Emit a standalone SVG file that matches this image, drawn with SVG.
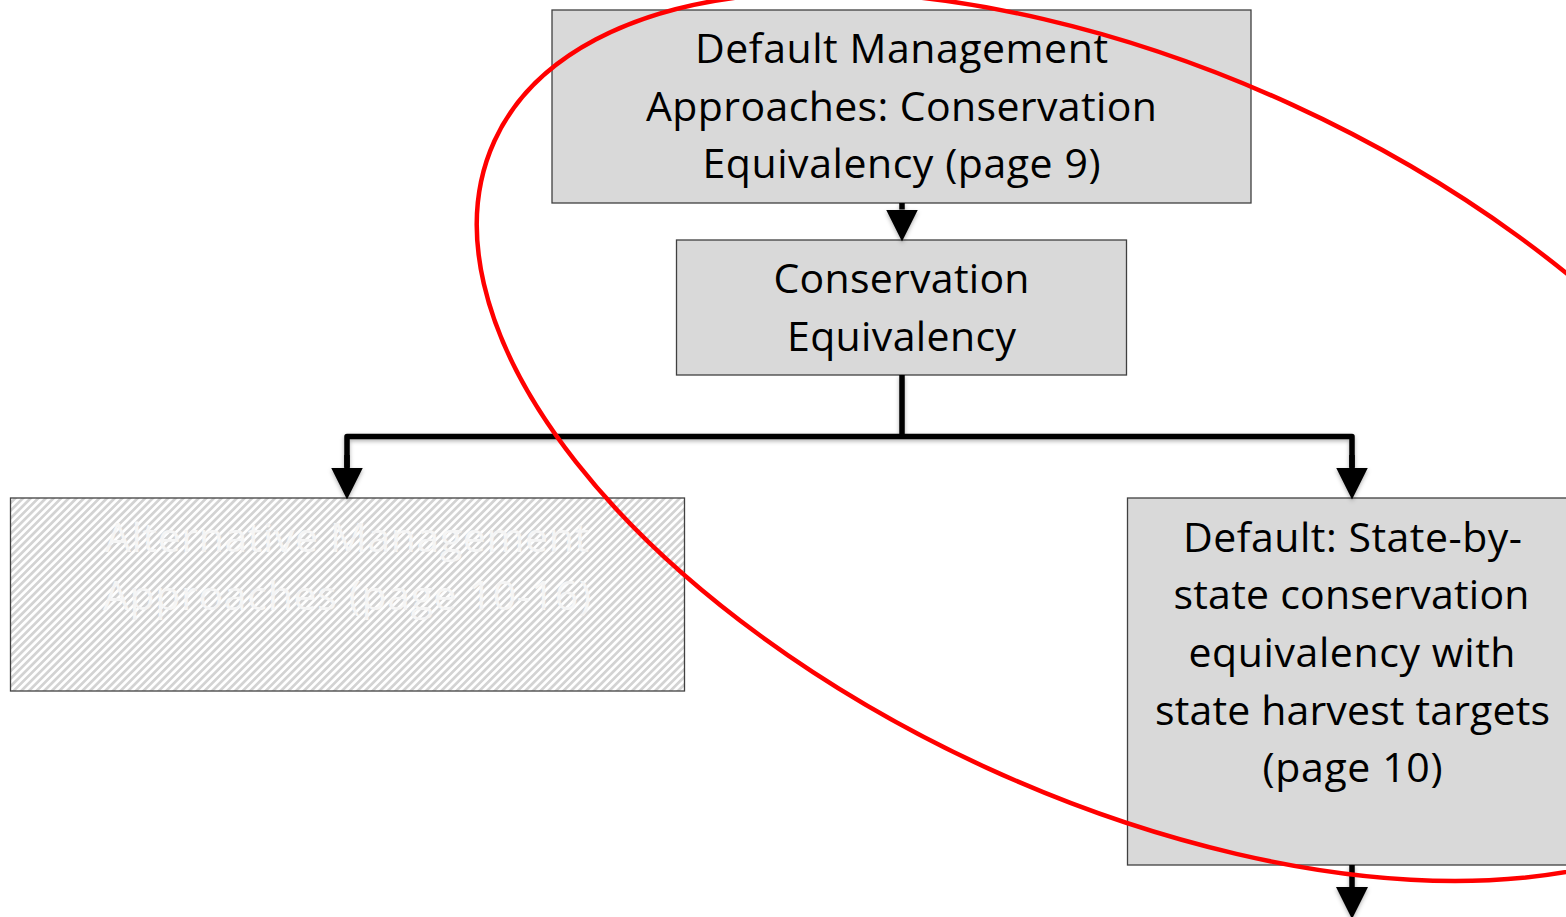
<svg xmlns="http://www.w3.org/2000/svg" width="1566" height="917" viewBox="0 0 1566 917">
  <style>
    .box { fill: #d9d9d9; stroke: #404040; stroke-width: 1.3; }
    .hbox { fill: url(#hatch); stroke: #404040; stroke-width: 1.3; }
    .lbl { font-family: "Open Sans", "Noto Sans", "Liberation Sans", sans-serif; font-size: 41px; fill: #000000; text-anchor: middle; }
    .ghost { fill: #f5f5f5; }
    .conn { fill: none; stroke: #000000; stroke-width: 5.5; stroke-linejoin: round; }
  </style>
  <defs>
    <pattern id="hatch" patternUnits="userSpaceOnUse" width="5.4" height="5.4" patternTransform="rotate(45)">
      <rect x="0" y="0" width="5.4" height="5.4" fill="#ffffff"/>
      <rect x="0" y="0" width="2.7" height="5.4" fill="#d3d3d3"/>
    </pattern>
    <marker id="arrow" markerUnits="userSpaceOnUse" markerWidth="32" markerHeight="32" viewBox="0 0 30 30" refX="0" refY="15" orient="auto">
      <path d="M0,0 L30,15 L0,30 Z" fill="#000000"/>
    </marker>
    <filter id="shadow" x="-20%" y="-20%" width="140%" height="160%">
      <feDropShadow dx="0" dy="2" stdDeviation="2" flood-color="#000000" flood-opacity="0.3"/>
    </filter>
  </defs>

  <g id="node-default-management">
    <rect class="box" x="552" y="10" width="699" height="193"/>
    <text class="lbl" x="901.5" y="63" textLength="413">Default Management</text>
    <text class="lbl" x="901.5" y="121" textLength="511">Approaches: Conservation</text>
    <text class="lbl" x="901.5" y="178" textLength="398">Equivalency (page 9)</text>
  </g>

  <g id="node-conservation-equivalency">
    <rect class="box" x="676.5" y="240" width="450" height="135"/>
    <text class="lbl" x="901.5" y="293" textLength="256">Conservation</text>
    <text class="lbl" x="901.5" y="351" textLength="229">Equivalency</text>
  </g>

  <g id="node-alternative">
    <rect class="hbox" x="10.5" y="498" width="674" height="193"/>
    <text class="lbl ghost" x="347" y="552" textLength="484">Alternative Management</text>
    <text class="lbl ghost" x="347" y="610" textLength="488">Approaches (page 10-16)</text>
  </g>

  <g id="node-state-by-state">
    <rect class="box" x="1127.5" y="498" width="450" height="367"/>
    <text class="lbl" x="1352.5" y="552" textLength="339">Default: State-by-</text>
    <text class="lbl" x="1351.5" y="609" textLength="356">state conservation</text>
    <text class="lbl" x="1352" y="667" textLength="327">equivalency with</text>
    <text class="lbl" x="1352.5" y="725" textLength="395">state harvest targets</text>
    <text class="lbl" x="1352.5" y="782" textLength="180">(page 10)</text>
  </g>

  <g id="connectors" filter="url(#shadow)">
    <path class="conn" d="M902,203 L902,209.5" marker-end="url(#arrow)"/>
    <path class="conn" d="M902,375 L902,436.5"/>
    <path class="conn" d="M347,468 L347,436.5 L1352,436.5 L1352,468"/>
    <path class="conn" d="M347,455 L347,467.5" marker-end="url(#arrow)"/>
    <path class="conn" d="M1352,455 L1352,467.5" marker-end="url(#arrow)"/>
    <path class="conn" d="M1352,865 L1352,887" marker-end="url(#arrow)"/>
  </g>

  <g id="highlight">
    <ellipse cx="1140" cy="436.5" rx="710" ry="365" transform="rotate(24.6 1140 436.5)" fill="none" stroke="#ff0000" stroke-width="4.5"/>
  </g>
</svg>
